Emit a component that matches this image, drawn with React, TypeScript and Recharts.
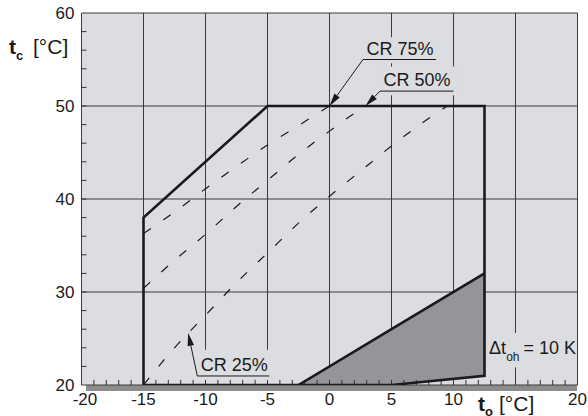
import React from 'react';
import {
  ComposedChart,
  Line,
  Area,
  XAxis,
  YAxis,
  CartesianGrid,
  ReferenceLine,
  ReferenceArea,
} from 'recharts';

// ---------- data ----------
const xTicks = [-20, -15, -10, -5, 0, 5, 10, 15, 20];
const xTickLabels = ['-20', '-15', '-10', '-5', '0', '5', '10', '', '20'];
const yTicks = [20, 30, 40, 50, 60];
const xMinorTicks = [-19, -18, -17, -16, -15, -14, -13, -12, -11, -10, -9, -8, -7, -6, -5, -4, -3, -2, -1, 0, 1, 2, 3, 4, 5, 6, 7, 8, 9, 10, 11, 12, 13, 14, 15, 16, 17, 18, 19];
const yMinorTicks = [22, 24, 26, 28, 30, 32, 34, 36, 38, 40, 42, 44, 46, 48, 50, 52, 54, 56, 58];

// operating envelope (t_o, t_c)
const envelopeX = [-15, -15, -5, 12.5, 12.5, 5, -15];
const envelopeY = [20, 38, 50, 50, 21, 20, 20];

// capacity-regulation curves
const cr75X = [-15, -12.5, -10, -7.5, -5, -2.5, 0];
const cr75Y = [36.3, 38.6, 41.1, 43.5, 45.8, 47.9, 50];
const cr50X = [-15, -12.5, -10, -7.5, -5, -2.5, 0, 2, 3];
const cr50Y = [30.4, 33.4, 36.2, 39.2, 42.0, 44.8, 47.3, 49.2, 50];
const cr25X = [-15, -12.5, -10, -7.5, -5, -2.5, 0, 2.5, 5, 7.5, 9.5];
const cr25Y = [20, 24.0, 27.5, 31.0, 34.2, 37.4, 40.3, 43.0, 45.7, 48.2, 50];

// superheat-limited (shaded) region
const shadeX = [-2.5, 5, 12.5];
const shadeLow = [20, 20, 21];
const shadeHigh = [20, 26, 32];

// annotations
const crLabels = ['CR 75%', 'CR 50%', 'CR 25%'];
const crLineY = [55, 51.6, 20.97];
const crLineX0 = [2.7, 4.07, -10.66];
const crLineX1 = [8.6, 10, -4.85];
const crTipX = [0, 2.9, -11.4];
const crTipY = [50, 50, 25.6];
const crBoxX0 = [2.4, 3.9, -10.7];
const crBoxX1 = [9.0, 10.4, -4.5];
const crBoxY0 = [54.6, 51.15, 20.55];
const crBoxY1 = [57.4, 54.25, 23.8];

const toPts = (xs: number[], ys: number[]) => xs.map((x, i) => ({ x, y: ys[i] }));
const envelope = toPts(envelopeX, envelopeY);
const cr75 = toPts(cr75X, cr75Y);
const cr50 = toPts(cr50X, cr50Y);
const cr25 = toPts(cr25X, cr25Y);
const shadeTop = toPts(shadeX, shadeHigh);
const shadeData = shadeX.map((x, i) => ({ x, range: [shadeLow[i], shadeHigh[i]] }));

// ---------- style ----------
const FONT = '"Liberation Sans", Arial, Helvetica, sans-serif';
const PLOT_BG = '#dcdde0';
const INK = '#1a1a1a';
const GRID = '#3a3a3a';
const TICK_LEN_X = 0.55; // in t_c units (~5px)
const TICK_LEN_Y = 0.4; // in t_o units (~5px)

const XTick = (props: any) => {
  const { x, y, payload } = props;
  const idx = xTicks.indexOf(payload.value);
  const label = idx >= 0 ? xTickLabels[idx] : '';
  if (!label) return <g />;
  const dx = payload.value === -20 ? 3.5 : 0;
  return (
    <text x={x + dx} y={y} dy="0.71em" textAnchor="middle" fontSize={17} fontFamily={FONT} fill={INK}>
      {label}
    </text>
  );
};

const Arrow = (props: any) => {
  const { x1, y1, x2, y2 } = props;
  const dx = x2 - x1;
  const dy = y2 - y1;
  const len = Math.sqrt(dx * dx + dy * dy) || 1;
  const ux = dx / len;
  const uy = dy / len;
  const head = 13;
  const half = 3.3;
  const bx = x2 - ux * head;
  const by = y2 - uy * head;
  const px = -uy * half;
  const py = ux * half;
  return (
    <g>
      <line x1={x1} y1={y1} x2={bx} y2={by} stroke={INK} strokeWidth={1} />
      <polygon points={`${x2},${y2} ${bx + px},${by + py} ${bx - px},${by - py}`} fill={INK} />
    </g>
  );
};

const Underline = (text: string) => (props: any) => {
  const { x1, y1, x2, y2 } = props;
  return (
    <g>
      <line x1={x1} y1={y1} x2={x2} y2={y2} stroke={INK} strokeWidth={1} />
      <text x={x1 + 3.5} y={y1 - 5} fontSize={18} fontFamily={FONT} fill={INK}>
        {text}
      </text>
    </g>
  );
};

const DeltaBox = (props: any) => {
  const { x, y, width, height } = props;
  return (
    <g>
      <rect x={x} y={y} width={width} height={height} fill={PLOT_BG} />
      <text x={x + 1.5} y={y + 21} fontSize={18} fontFamily={FONT} fill={INK}>
        Δt
        <tspan fontSize={12} dy={7}>oh</tspan>
        <tspan dy={-7} dx={4}>= 10 K</tspan>
      </text>
    </g>
  );
};

export default function App() {
  return (
    <div style={{ position: 'absolute', left: 0, top: 0, width: 588, height: 416, background: '#fff' }}>
      <div style={{ position: 'absolute', left: 86, top: 385, width: 491, height: 5.5, background: '#8c8c8c' }} />
      <div style={{ position: 'absolute', left: 0, top: 0 }}>
        <ComposedChart width={588} height={416} margin={{ top: 13, right: 10.5, bottom: 0, left: 0 }}>
          <CartesianGrid stroke={GRID} strokeWidth={1} fill={PLOT_BG} fillOpacity={1} />
          <XAxis
            type="number"
            dataKey="x"
            domain={[-20, 20]}
            ticks={xTicks}
            interval={0}
            height={31}
            tick={<XTick />}
            tickSize={0}
            tickMargin={8}
            tickLine={false}
            axisLine={false}
            allowDataOverflow
          />
          <YAxis
            type="number"
            domain={[20, 60]}
            ticks={yTicks}
            interval={0}
            width={81.5}
            tickSize={0}
            tickMargin={7}
            tickLine={false}
            axisLine={false}
            tick={{ fontSize: 17, fill: INK, fontFamily: FONT }}
            allowDataOverflow
          />

          {crLabels.map((t, i) => (
            <ReferenceArea
              key={'box' + i}
              x1={crBoxX0[i]}
              x2={crBoxX1[i]}
              y1={crBoxY0[i]}
              y2={crBoxY1[i]}
              fill={PLOT_BG}
              fillOpacity={1}
              stroke="none"
            />
          ))}
          <ReferenceArea x1={12.75} x2={19.85} y1={21.9} y2={25.6} shape={DeltaBox} stroke="none" />

          {xMinorTicks.map((v) => (
            <ReferenceLine
              key={'xt' + v}
              segment={[
                { x: v, y: 20 },
                { x: v, y: 20 + TICK_LEN_X },
              ]}
              stroke="#333"
              strokeWidth={1}
            />
          ))}
          {yMinorTicks.map((v) => (
            <ReferenceLine
              key={'yt' + v}
              segment={[
                { x: -20, y: v },
                { x: -20 + TICK_LEN_Y, y: v },
              ]}
              stroke="#333"
              strokeWidth={1}
            />
          ))}

          <Area
            data={shadeData}
            dataKey="range"
            type="linear"
            fill="#939598"
            fillOpacity={1}
            stroke="none"
            isAnimationActive={false}
          />
          <Line data={shadeTop} dataKey="y" type="linear" stroke={INK} strokeWidth={2.6} dot={false} activeDot={false} isAnimationActive={false} />

          {[cr75, cr50, cr25].map((d, i) => (
            <Line
              key={'cr' + i}
              data={d}
              dataKey="y"
              type="monotone"
              stroke={INK}
              strokeWidth={1.2}
              strokeDasharray="9 15"
              dot={false}
              activeDot={false}
              isAnimationActive={false}
            />
          ))}

          <Line data={envelope} dataKey="y" type="linear" stroke={INK} strokeWidth={2.6} strokeLinejoin="miter" dot={false} activeDot={false} isAnimationActive={false} />

          {crLabels.map((t, i) => (
            <ReferenceLine
              key={'ul' + i}
              segment={[
                { x: crLineX0[i], y: crLineY[i] },
                { x: crLineX1[i], y: crLineY[i] },
              ]}
              shape={Underline(t)}
            />
          ))}
          {crLabels.map((t, i) => (
            <ReferenceLine
              key={'ar' + i}
              segment={[
                { x: crLineX0[i], y: crLineY[i] },
                { x: crTipX[i], y: crTipY[i] },
              ]}
              shape={Arrow}
            />
          ))}
        </ComposedChart>
      </div>
      <svg width={588} height={416} style={{ position: 'absolute', left: 0, top: 0, pointerEvents: 'none' }}>
        <text y={54} fontSize={21} fontFamily={FONT} fill={INK}>
          <tspan x={9} fontWeight="bold">t</tspan>
          <tspan fontWeight="bold" fontSize={13} dy={6}>c</tspan>
          <tspan x={33} dy={-6}>[°C]</tspan>
        </text>
        <text y={411} fontSize={21} fontFamily={FONT} fill={INK}>
          <tspan x={478} fontWeight="bold">t</tspan>
          <tspan fontWeight="bold" fontSize={13} dy={5}>o</tspan>
          <tspan x={499} dy={-5}>[°C]</tspan>
        </text>
      </svg>
    </div>
  );
}
